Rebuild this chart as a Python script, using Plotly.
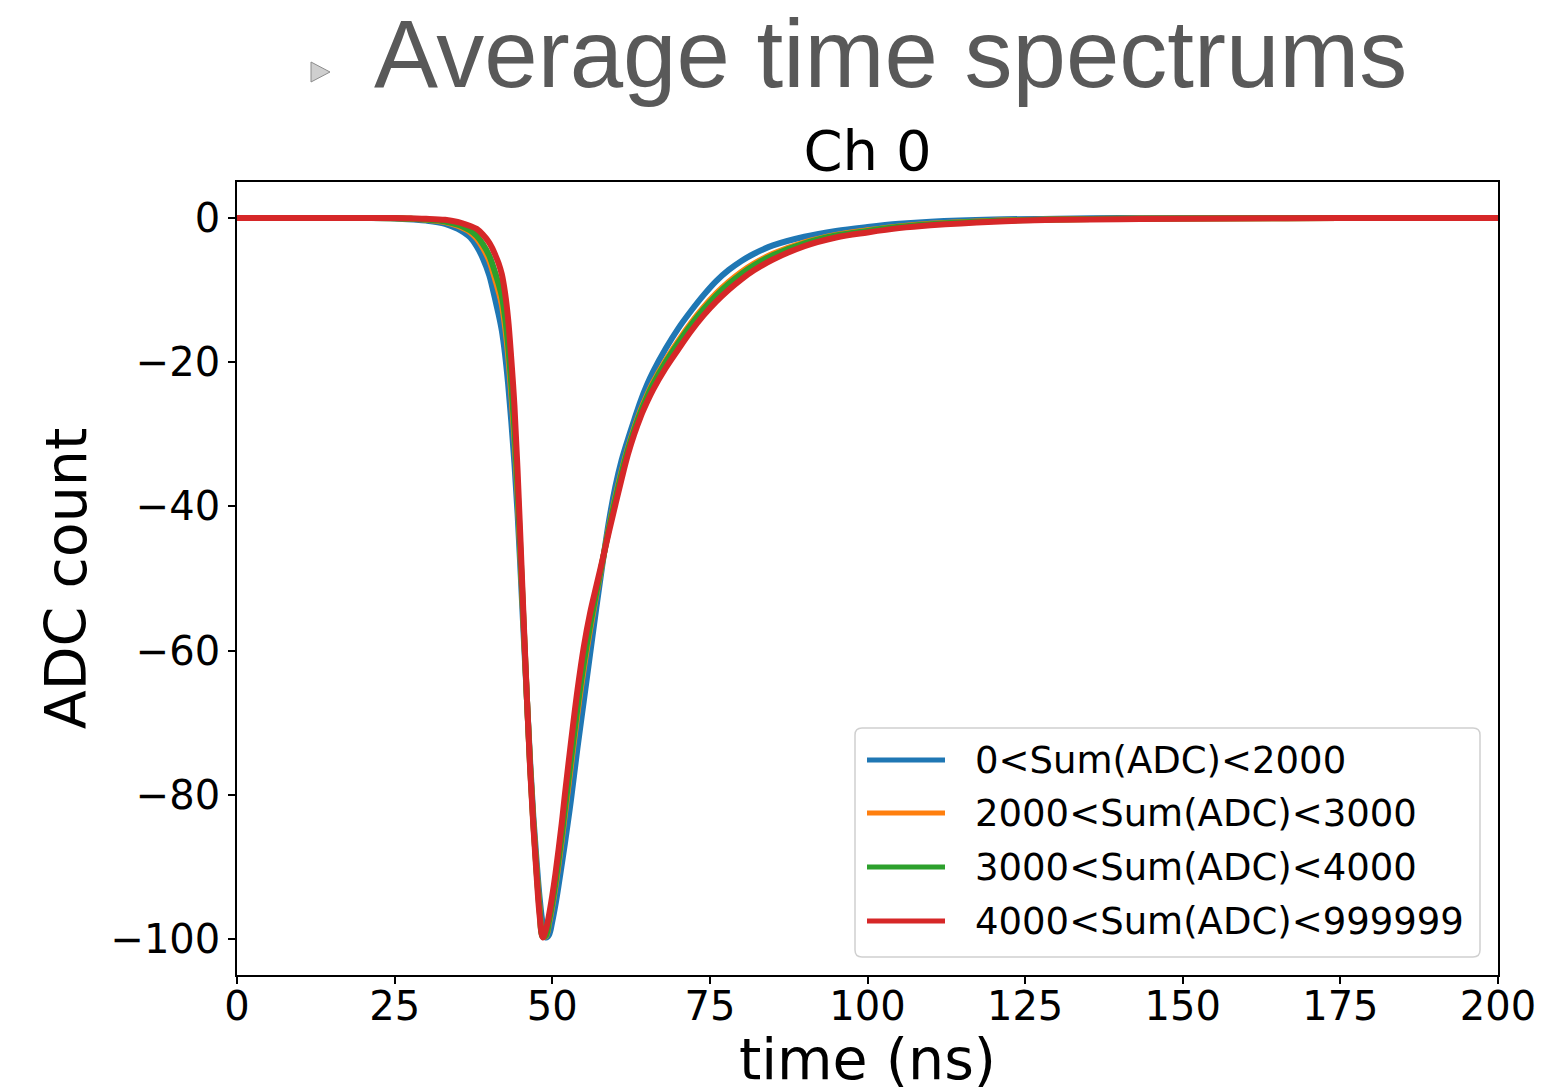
import plotly.graph_objects as go

# ---------------- data ----------------
time_ns = [0, 10, 20, 25, 28, 30, 33, 35, 36, 37, 38, 39, 40, 40.5, 41, 41.5, 42, 42.5,
           43, 43.5, 44, 44.5, 45, 45.5, 46, 46.5, 47, 47.5, 48, 48.5, 49, 49.5, 50, 50.5,
           51, 51.5, 52, 53, 54, 55, 56, 57, 58, 59, 60, 61, 62, 63, 64, 65, 66, 68, 70,
           72, 74, 76, 78, 80, 82, 85, 90, 95, 100, 105, 110, 120, 130, 140, 150, 175, 200]

adc_0_2000 = [0, 0, 0, -0.05, -0.2, -0.35, -0.8, -1.5, -2.0, -2.7, -3.9, -5.6, -7.9, -9.6,
              -11.5, -13.4, -15.6, -18.8, -23.0, -28.2, -34.0, -41.0, -49.5, -58.5, -67.0,
              -75.5, -83.0, -89.0, -94.3, -98.0, -99.8, -99.4, -97.6, -95.3, -92.6, -89.7,
              -86.8, -80.5, -73.5, -67.0, -60.5, -54.0, -47.8, -42.0, -37.3, -33.6, -30.7,
              -28.0, -25.4, -23.2, -21.3, -18.1, -15.3, -12.9, -10.7, -8.75, -7.2, -5.95,
              -4.95, -3.8, -2.6, -1.8, -1.25, -0.8, -0.5, -0.2, -0.1, 0, 0, 0, 0]

adc_2000_3000 = [0, 0, 0, -0.03, -0.13, -0.24, -0.55, -1.07, -1.46, -1.98, -2.82, -4.12,
                 -5.88, -7.17, -8.67, -10.21, -12.0, -14.93, -18.95, -24.29, -30.4, -38.3,
                 -47.7, -57.3, -67.0, -76.1, -83.8, -90.2, -95.8, -99.6, -99.6, -97.72,
                 -95.44, -92.72, -89.6, -86.28, -82.72, -75.7, -68.7, -62.5, -57.08, -52.2,
                 -47.5, -42.9, -38.8, -35.16, -31.96, -29.2, -26.72, -24.64, -22.8, -19.72,
                 -17.04, -14.58, -12.38, -10.46, -8.85, -7.48, -6.33, -4.97, -3.38, -2.34,
                 -1.7, -1.16, -0.8, -0.38, -0.19, -0.09, -0.06, 0, 0]

adc_3000_4000 = [0, 0, 0, -0.02, -0.11, -0.2, -0.47, -0.93, -1.28, -1.74, -2.46, -3.62,
                 -5.2, -6.36, -7.72, -9.14, -10.8, -13.64, -17.6, -22.98, -29.2, -37.4,
                 -47.1, -57.1, -67.0, -76.2, -83.9, -90.4, -96.05, -99.7, -99.5, -97.44,
                 -95.08, -92.29, -89.1, -85.71, -82.04, -74.9, -67.9, -61.75, -56.51, -51.9,
                 -47.45, -43.05, -39.05, -35.42, -32.17, -29.4, -26.94, -24.88, -23.05,
                 -19.99, -17.33, -14.86, -12.66, -10.75, -9.13, -7.74, -6.56, -5.17, -3.51,
                 -2.43, -1.78, -1.22, -0.85, -0.41, -0.2, -0.1, -0.07, 0, 0]

adc_4000_999999 = [0, 0, 0, 0, -0.05, -0.1, -0.25, -0.55, -0.8, -1.1, -1.5, -2.3, -3.4,
                   -4.2, -5.2, -6.3, -7.8, -10.3, -14.0, -19.5, -26.0, -35.0, -45.5, -56.5,
                   -67.0, -76.5, -84.3, -91.0, -96.8, -99.8, -98.7, -96.6, -94.0, -91.0,
                   -87.6, -84.0, -80.0, -72.5, -65.5, -59.5, -54.8, -51.0, -47.3, -43.5,
                   -39.8, -36.2, -32.8, -30.0, -27.6, -25.6, -23.8, -20.8, -18.2, -15.7,
                   -13.5, -11.6, -9.95, -8.5, -7.25, -5.75, -3.9, -2.7, -2.0, -1.4, -1.0,
                   -0.5, -0.25, -0.15, -0.1, 0, 0]

series_names = ["0<Sum(ADC)<2000", "2000<Sum(ADC)<3000",
                "3000<Sum(ADC)<4000", "4000<Sum(ADC)<999999"]
series_values = [adc_0_2000, adc_2000_3000, adc_3000_4000, adc_4000_999999]
series_colors = ["#1f77b4", "#ff7f0e", "#2ca02c", "#d62728"]

x_ticks = [0, 25, 50, 75, 100, 125, 150, 175, 200]
y_ticks = [0, -20, -40, -60, -80, -100]

page_title = "Average time spectrums"
chart_title = "Ch 0"
x_label = "time (ns)"
y_label = "ADC count"

# ---------------- figure ----------------
W, H = 1546, 1092
L, R, T, B = 237, 48, 182, 117
plot_w, plot_h = W - L - R, H - T - B


def px_x(px):
    return (px - L) / plot_w


def px_y(py):
    return (H - B - py) / plot_h


fig = go.Figure()
for name, vals, col in zip(series_names, series_values, series_colors):
    fig.add_trace(go.Scatter(
        x=time_ns, y=vals, mode="lines", name=name, showlegend=False,
        line=dict(color=col, width=6, shape="spline", smoothing=1.0),
    ))

axis_font = dict(family="DejaVu Sans", size=40, color="black")

fig.update_layout(
    width=W, height=H,
    margin=dict(l=L, r=R, t=T, b=B, autoexpand=False),
    paper_bgcolor="white", plot_bgcolor="white",
    font=dict(family="DejaVu Sans", color="black"),
    title=dict(text=chart_title, x=0.5, xref="paper", xanchor="center",
               y=1 - 150 / H, yref="container", yanchor="middle",
               font=dict(family="DejaVu Sans", size=56, color="black")),
    showlegend=False,
    xaxis=dict(range=[0, 200], tickvals=x_ticks, ticks="outside", ticklen=7,
               tickwidth=1.5, tickcolor="black", showline=True, linecolor="black",
               linewidth=1.5, mirror=True, showgrid=False, zeroline=False,
               tickfont=axis_font,
               title=dict(text=x_label, font=dict(family="DejaVu Sans", size=57),
                          standoff=8)),
    yaxis=dict(range=[-105, 5], tickvals=y_ticks, ticks="outside", ticklen=7,
               tickwidth=1.5, tickcolor="black", showline=True, linecolor="black",
               linewidth=1.5, mirror=True, showgrid=False, zeroline=False,
               tickfont=axis_font,
               title=dict(text=y_label, font=dict(family="DejaVu Sans", size=57),
                          standoff=5)),
)

# pull x tick labels closer to the axis (as in the reference)
try:
    fig.update_xaxes(ticklabelstandoff=-12)
    fig.update_xaxes(title_standoff=20)
except Exception:
    pass

# legend box (matplotlib-style, drawn as layout decoration)
bx0, bx1, by0, by1, rad = 855, 1480, 728, 957, 7
fig.add_shape(
    type="path", xref="paper", yref="paper", layer="above",
    path=(f"M {px_x(bx0 + rad)},{px_y(by0)} L {px_x(bx1 - rad)},{px_y(by0)} "
          f"Q {px_x(bx1)},{px_y(by0)} {px_x(bx1)},{px_y(by0 + rad)} "
          f"L {px_x(bx1)},{px_y(by1 - rad)} "
          f"Q {px_x(bx1)},{px_y(by1)} {px_x(bx1 - rad)},{px_y(by1)} "
          f"L {px_x(bx0 + rad)},{px_y(by1)} "
          f"Q {px_x(bx0)},{px_y(by1)} {px_x(bx0)},{px_y(by1 - rad)} "
          f"L {px_x(bx0)},{px_y(by0 + rad)} "
          f"Q {px_x(bx0)},{px_y(by0)} {px_x(bx0 + rad)},{px_y(by0)} Z"),
    fillcolor="rgba(255,255,255,0.85)", line=dict(color="#d0d0d0", width=1.5))

row_y = [760, 813, 867, 921]
for name, col, ry in zip(series_names, series_colors, row_y):
    fig.add_shape(type="line", xref="paper", yref="paper", layer="above",
                  x0=px_x(867), x1=px_x(945), y0=px_y(ry), y1=px_y(ry),
                  line=dict(color=col, width=5))
    fig.add_annotation(text=name, xref="paper", yref="paper",
                       x=px_x(973), y=px_y(ry), xanchor="left", yanchor="middle",
                       showarrow=False,
                       font=dict(family="DejaVu Sans", size=37, color="black"))

# slide heading
fig.add_annotation(text=page_title, xref="paper", yref="paper",
                   x=px_x(890), y=px_y(53), xanchor="center", yanchor="middle",
                   showarrow=False,
                   font=dict(family="Liberation Sans", size=96, color="#595959"))

# slide bullet icon
x0, x1 = px_x(311), px_x(330)
y0, y1, ym = px_y(62), px_y(82), px_y(72)
fig.add_shape(type="path", xref="paper", yref="paper",
              path=f"M {x0},{y0} L {x1},{ym} L {x0},{y1} Z",
              fillcolor="#cfcfcf", line=dict(color="#8c8c8c", width=1))

fig.write_html("out.html")
